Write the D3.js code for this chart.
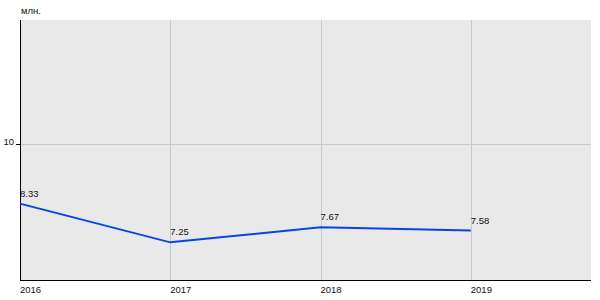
<!DOCTYPE html>
<html>
<head>
<meta charset="utf-8">
<script src="https://cdn.jsdelivr.net/npm/d3@7"></script>
<style>
  body { margin: 0; background: #fff; }
  svg text { font-family: "Liberation Sans", Arial, sans-serif; font-size: 9.5px; fill: #111; }
</style>
</head>
<body>
<svg id="chart" width="600" height="300"></svg>
<script>
// data
var years = [2016, 2017, 2018, 2019];
var values = [8.33, 7.25, 7.67, 7.58];
var yTicks = [10];
var unitLabel = "млн.";

(function() {
    var svg = d3.select("#chart");
    var plotLeft = 20, plotRight = 591, plotTop = 20, plotBottom = 280;

    var x = d3.scaleLinear().domain([2016, 2019.8]).range([plotLeft, plotRight]);
    var y = d3.scaleLinear().domain([6.2, 13.45]).range([plotBottom, plotTop]);

    // plot background
    svg.append("rect")
        .attr("x", plotLeft).attr("y", plotTop)
        .attr("width", plotRight - plotLeft).attr("height", plotBottom - plotTop)
        .attr("fill", "#e9e9e9");

    // grid
    svg.selectAll("line.vgrid").data(years.slice(1)).enter().append("line")
        .attr("class", "vgrid")
        .attr("x1", function(d) { return Math.round(x(d)) + 0.5; })
        .attr("x2", function(d) { return Math.round(x(d)) + 0.5; })
        .attr("y1", plotTop).attr("y2", plotBottom)
        .attr("stroke", "#c8c8c8").attr("stroke-width", 1);

    svg.selectAll("line.hgrid").data(yTicks).enter().append("line")
        .attr("class", "hgrid")
        .attr("x1", plotLeft).attr("x2", plotRight)
        .attr("y1", function(d) { return Math.round(y(d)) + 0.5; })
        .attr("y2", function(d) { return Math.round(y(d)) + 0.5; })
        .attr("stroke", "#c8c8c8").attr("stroke-width", 1);

    // y tick mark + label
    svg.selectAll("line.ytick").data(yTicks).enter().append("line")
        .attr("class", "ytick")
        .attr("x1", plotLeft - 4).attr("x2", plotLeft)
        .attr("y1", function(d) { return Math.round(y(d)) + 0.5; })
        .attr("y2", function(d) { return Math.round(y(d)) + 0.5; })
        .attr("stroke", "#000");

    svg.selectAll("text.ylab").data(yTicks).enter().append("text")
        .attr("class", "ylab")
        .attr("x", plotLeft - 6)
        .attr("y", function(d) { return y(d) + 1; })
        .attr("text-anchor", "end")
        .text(function(d) { return d; });

    // axes
    svg.append("line")
        .attr("x1", plotLeft + 0.5).attr("x2", plotLeft + 0.5)
        .attr("y1", plotTop).attr("y2", plotBottom + 1)
        .attr("stroke", "#000");
    svg.append("line")
        .attr("x1", plotLeft).attr("x2", plotRight)
        .attr("y1", plotBottom + 0.5).attr("y2", plotBottom + 0.5)
        .attr("stroke", "#000");

    svg.append("text")
        .attr("x", plotLeft + 1).attr("y", 14)
        .text(unitLabel);

    svg.selectAll("text.xlab").data(years).enter().append("text")
        .attr("class", "xlab")
        .attr("x", function(d) { return x(d); })
        .attr("y", 293)
        .text(function(d) { return d; });

    // series line
    var line = d3.line()
        .x(function(d, i) { return x(years[i]); })
        .y(function(d) { return y(d); });

    svg.append("path")
        .datum(values)
        .attr("d", line)
        .attr("fill", "none")
        .attr("stroke", "#0646e0")
        .attr("stroke-width", 2);

    svg.selectAll("text.vlab").data(values).enter().append("text")
        .attr("class", "vlab")
        .attr("x", function(d, i) { return x(years[i]); })
        .attr("y", function(d) { return y(d) - 7; })
        .text(function(d) { return d.toFixed(2); });
})();
</script>
</body>
</html>
